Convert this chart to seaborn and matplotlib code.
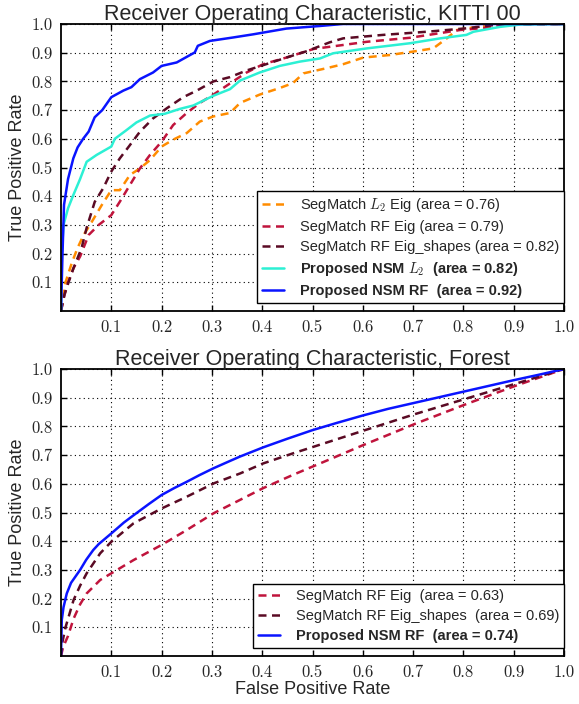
"""
ROC curves for KITTI 00 and Forest, SegMatch vs proposed NSM
"""
import numpy as np
import pandas as pd
import matplotlib
matplotlib.use('Agg')
import matplotlib.pyplot as plt
import seaborn as sns

# ---- KITTI 00 data ----
k_l2eig_fpr = [0.0, 0.004, 0.009, 0.022, 0.033, 0.045, 0.061, 0.081, 0.1, 0.117, 0.137, 0.157, 0.177, 0.2,
               0.223, 0.25, 0.276, 0.303, 0.336, 0.356, 0.395, 0.435, 0.461, 0.482, 0.528, 0.561, 0.601,
               0.654, 0.7, 0.74, 0.767, 0.787, 0.827, 0.873, 1.0]
k_l2eig_tpr = [0.0, 0.05, 0.10, 0.17, 0.22, 0.265, 0.31, 0.369, 0.421, 0.421, 0.474, 0.497, 0.526, 0.573,
               0.597, 0.62, 0.66, 0.678, 0.69, 0.725, 0.754, 0.777, 0.794, 0.828, 0.846, 0.86, 0.883,
               0.892, 0.904, 0.915, 0.95, 0.979, 0.99, 0.998, 1.0]

k_rfeig_fpr = [0.0, 0.006, 0.014, 0.025, 0.038, 0.055, 0.075, 0.1, 0.117, 0.137, 0.157, 0.177, 0.2, 0.223,
               0.25, 0.276, 0.303, 0.342, 0.369, 0.402, 0.448, 0.502, 0.608, 0.694, 0.793, 0.846, 0.886,
               1.0]
k_rfeig_tpr = [0.0, 0.05, 0.10, 0.15, 0.19, 0.265, 0.30, 0.334, 0.381, 0.439, 0.497, 0.544, 0.59, 0.648,
               0.69, 0.725, 0.754, 0.80, 0.831, 0.86, 0.883, 0.913, 0.938, 0.952, 0.979, 0.987, 0.997,
               1.0]

k_rfshape_fpr = [0.0, 0.007, 0.015, 0.025, 0.041, 0.051, 0.067, 0.084, 0.1, 0.117, 0.137, 0.157, 0.183,
                 0.21, 0.243, 0.27, 0.303, 0.336, 0.369, 0.408, 0.448, 0.488, 0.534, 0.561, 0.64, 0.727,
                 0.806, 0.853, 0.89, 1.0]
k_rfshape_tpr = [0.0, 0.058, 0.10, 0.15, 0.22, 0.29, 0.38, 0.428, 0.486, 0.532, 0.578, 0.625, 0.671,
                 0.706, 0.745, 0.768, 0.80, 0.815, 0.838, 0.86, 0.883, 0.905, 0.936, 0.95, 0.962, 0.973,
                 0.985, 0.995, 1.0, 1.0]

k_nsml2_fpr = [0.0, 0.0013, 0.005, 0.014, 0.0245, 0.038, 0.051, 0.071, 0.1, 0.107, 0.13, 0.15, 0.177,
               0.206, 0.236, 0.263, 0.303, 0.336, 0.356, 0.395, 0.435, 0.475, 0.515, 0.541, 0.608, 0.694,
               0.754, 0.806, 0.82, 0.873, 0.912, 1.0]
k_nsml2_tpr = [0.0, 0.195, 0.30, 0.358, 0.404, 0.46, 0.52, 0.544, 0.573, 0.60, 0.63, 0.657, 0.681,
               0.687, 0.704, 0.716, 0.75, 0.773, 0.803, 0.831, 0.854, 0.869, 0.880, 0.898, 0.915, 0.933,
               0.95, 0.962, 0.973, 0.99, 0.998, 1.0]

k_nsmrf_fpr = [0.0, 0.003, 0.006, 0.014, 0.0245, 0.033, 0.044, 0.055, 0.067, 0.082, 0.1, 0.124, 0.14,
               0.157, 0.183, 0.2, 0.23, 0.266, 0.272, 0.296, 0.342, 0.382, 0.448, 0.514, 0.56, 1.0]
k_nsmrf_tpr = [0.0, 0.2, 0.37, 0.46, 0.532, 0.57, 0.60, 0.625, 0.675, 0.70, 0.745, 0.768, 0.78, 0.808,
               0.831, 0.854, 0.866, 0.901, 0.924, 0.941, 0.953, 0.964, 0.984, 0.993, 1.0, 1.0]

# ---- Forest data ----
f_rfeig_fpr = [0.0, 0.004, 0.014, 0.025, 0.038, 0.051, 0.078, 0.1, 0.144, 0.2, 0.25, 0.303, 0.356, 0.402,
               0.461, 0.534, 0.601, 0.704, 0.806, 0.906, 1.0]
f_rfeig_tpr = [0.0, 0.03, 0.07, 0.13, 0.18, 0.218, 0.265, 0.288, 0.334, 0.387, 0.439, 0.497, 0.544,
               0.585, 0.631, 0.685, 0.735, 0.809, 0.878, 0.943, 1.0]

f_rfshape_fpr = [0.0, 0.003, 0.009, 0.025, 0.038, 0.051, 0.078, 0.1, 0.144, 0.2, 0.25, 0.303, 0.356,
                 0.402, 0.461, 0.534, 0.601, 0.704, 0.806, 0.906, 1.0]
f_rfshape_tpr = [0.0, 0.05, 0.10, 0.195, 0.245, 0.288, 0.358, 0.398, 0.462, 0.514, 0.555, 0.601, 0.636,
                 0.671, 0.706, 0.747, 0.785, 0.843, 0.897, 0.95, 1.0]

f_nsmrf_fpr = [0.0, 0.0015, 0.005, 0.0115, 0.02, 0.038, 0.05, 0.064, 0.075, 0.1, 0.125, 0.144, 0.175,
               0.2, 0.225, 0.25, 0.275, 0.303, 0.33, 0.356, 0.402, 0.45, 0.5, 0.55, 0.6, 0.65, 0.7, 0.75,
               0.8, 0.85, 0.9, 0.95, 1.0]
f_nsmrf_tpr = [0.0, 0.125, 0.17, 0.218, 0.255, 0.30, 0.335, 0.369, 0.39, 0.427, 0.465, 0.49, 0.53,
               0.561, 0.585, 0.607, 0.63, 0.654, 0.675, 0.695, 0.727, 0.757, 0.787, 0.813, 0.838, 0.861,
               0.881, 0.901, 0.921, 0.941, 0.961, 0.98, 1.0]

ticks = [0.1, 0.2, 0.3, 0.4, 0.5, 0.6, 0.7, 0.8, 0.9, 1.0]
tick_labels = ['0.1', '0.2', '0.3', '0.4', '0.5', '0.6', '0.7', '0.8', '0.9', '1.0']

ORANGE = '#ff8c00'
CRIMSON = '#c0143c'
MAROON = '#5a0a24'
CYAN = '#2cf0d4'
BLUE = '#0a14ff'

sns.set_style('ticks')
plt.rcParams['font.family'] = ['Liberation Sans', 'DejaVu Sans']
plt.rcParams['mathtext.fontset'] = 'cm'

DASH = (0, (3.2, 2.2))


def style_axes(ax, title, xlabel=None):
    ax.set_xlim(0, 1)
    ax.set_ylim(0, 1)
    ax.set_xticks(ticks)
    ax.set_yticks(ticks)
    ax.set_xticklabels(tick_labels, fontfamily='cmr10', fontsize=12)
    ax.set_yticklabels(tick_labels, fontfamily='cmr10', fontsize=12)
    ax.tick_params(direction='in', length=4.5, width=1, top=True, right=True,
                   color='black', pad=6)
    ax.grid(True, color='black', linestyle=(0, (1, 3)), linewidth=0.8)
    for sp in ax.spines.values():
        sp.set_color('black')
        sp.set_linewidth(1.3)
    ax.set_title(title, fontsize=15.5, pad=3)
    ax.set_ylabel('True Positive Rate', fontsize=13, labelpad=4)
    if xlabel:
        ax.set_xlabel(xlabel, fontsize=13, labelpad=1)
    else:
        ax.set_xlabel('')


def draw(ax, fpr, tpr, color, ls, label):
    df = pd.DataFrame({'fpr': fpr, 'tpr': tpr})
    sns.lineplot(data=df, x='fpr', y='tpr', ax=ax, color=color, linestyle=ls,
                 linewidth=1.8, label=label, sort=False, estimator=None)


fig = plt.figure(figsize=(5.79, 7.04), dpi=100)
ax1 = fig.add_axes([61 / 579, 1 - 311 / 704, 503 / 579, 287 / 704])
ax2 = fig.add_axes([61 / 579, 1 - 656 / 704, 503 / 579, 287 / 704])

draw(ax1, k_l2eig_fpr, k_l2eig_tpr, ORANGE, DASH, r'SegMatch $L_2$ Eig (area = 0.76)')
draw(ax1, k_rfeig_fpr, k_rfeig_tpr, CRIMSON, DASH, 'SegMatch RF Eig (area = 0.79)')
draw(ax1, k_rfshape_fpr, k_rfshape_tpr, MAROON, DASH, 'SegMatch RF Eig_shapes (area = 0.82)')
draw(ax1, k_nsml2_fpr, k_nsml2_tpr, CYAN, '-', r'Proposed NSM $L_2$  (area = 0.82)')
draw(ax1, k_nsmrf_fpr, k_nsmrf_tpr, BLUE, '-', 'Proposed NSM RF  (area = 0.92)')

draw(ax2, f_rfeig_fpr, f_rfeig_tpr, CRIMSON, DASH, 'SegMatch RF Eig  (area = 0.63)')
draw(ax2, f_rfshape_fpr, f_rfshape_tpr, MAROON, DASH, 'SegMatch RF Eig_shapes  (area = 0.69)')
draw(ax2, f_nsmrf_fpr, f_nsmrf_tpr, BLUE, '-', 'Proposed NSM RF  (area = 0.74)')

style_axes(ax1, 'Receiver Operating Characteristic, KITTI 00')
style_axes(ax2, 'Receiver Operating Characteristic, Forest', 'False Positive Rate')

for ax, nbold in ((ax1, 2), (ax2, 1)):
    leg = ax.legend(loc='lower right', bbox_to_anchor=(1.0, 8 / 287), fontsize=10.5, frameon=True,
                    fancybox=False, edgecolor='black', framealpha=1, handlelength=1.5,
                    borderaxespad=0.0, labelspacing=0.42, handletextpad=1.1, borderpad=0.32)
    leg.get_frame().set_linewidth(1.0)
    texts = leg.get_texts()
    for t in texts[-nbold:]:
        t.set_fontweight('bold')

fig.savefig('out.png', dpi=100)
